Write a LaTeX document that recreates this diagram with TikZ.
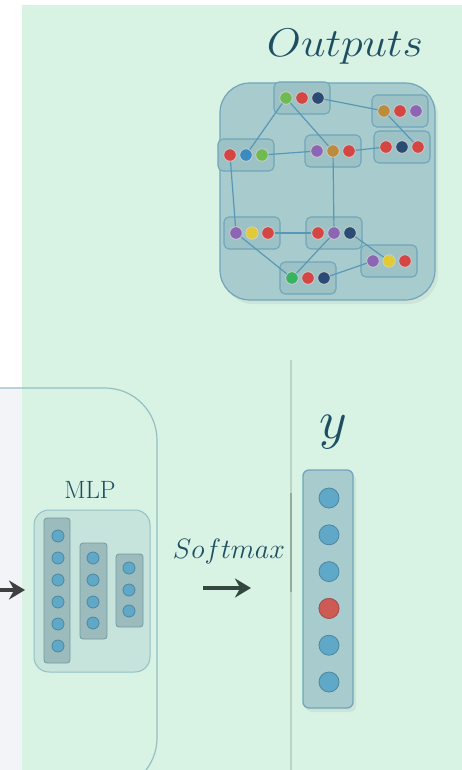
\RequirePackage{fix-cm}
\documentclass[tikz,border=0pt]{standalone}
\usepackage{tikz}
\usetikzlibrary{positioning, calc, arrows.meta, shadows}

\definecolor{mintbg}{RGB}{216, 242, 228}
\definecolor{greybg}{RGB}{242, 244, 247}
\definecolor{tealtxt}{RGB}{30, 78, 98}
\definecolor{boxfill}{RGB}{168, 204, 205}
\definecolor{boxline}{RGB}{112, 166, 186}
\definecolor{grpfill}{RGB}{156, 194, 198}
\definecolor{linkblue}{RGB}{88, 152, 182}
\definecolor{mlpfill}{RGB}{198, 228, 220}
\definecolor{mlpline}{RGB}{148, 192, 196}
\definecolor{unitblue}{RGB}{96, 168, 200}
\definecolor{unitred}{RGB}{206, 90, 84}
\definecolor{tokgreen}{RGB}{112, 186, 82}
\definecolor{tokgreenb}{RGB}{56, 180, 96}
\definecolor{tokred}{RGB}{212, 70, 68}
\definecolor{toknavy}{RGB}{42, 76, 116}
\definecolor{tokorange}{RGB}{188, 140, 62}
\definecolor{tokpurple}{RGB}{140, 102, 180}
\definecolor{tokblue}{RGB}{58, 140, 192}
\definecolor{tokyellow}{RGB}{226, 202, 52}
\definecolor{sepline}{RGB}{186, 212, 198}
\definecolor{arrowdark}{RGB}{50, 72, 62}

\tikzset{
  grpbox/.style={draw=boxline, fill=grpfill, rounded corners=5pt, line width=1.1pt,
    minimum width=56pt, minimum height=32pt, inner sep=0pt},
  tok/.style={circle, draw=black!18, line width=0.7pt, minimum size=12.5pt, inner sep=0pt},
  link/.style={draw=linkblue, line width=1.2pt},
  layerbox/.style={draw=mlpline!80!black, fill=boxfill!90!black!95, rounded corners=3pt,
    line width=0.8pt, inner sep=0pt},
  unit/.style={circle, fill=unitblue, draw=unitblue!80!black, line width=0.8pt,
    minimum size=12pt, inner sep=0pt},
  fatarrow/.style={-{Stealth[length=16pt, width=19pt]}, line width=3.4pt},
}

% one row of three tokens in a small box
\newcommand{\tokgroup}[6]{%
  \node[grpbox] (#1) at (#2,#3) {};
  \node[tok, fill=#4] (#1-1) at (#2-16,#3) {};
  \node[tok, fill=#5] (#1-2) at (#2,#3) {};
  \node[tok, fill=#6] (#1-3) at (#2+16,#3) {};
}

\begin{document}
\begin{tikzpicture}[x=1pt, y=-1pt]
  \useasboundingbox (0,0) rectangle (462,770);
  \fill[white] (0,0) rectangle (462,770);
  \fill[mintbg] (22,5) rectangle (462,770);
  \fill[greybg] (0,388) rectangle (22,770);

  % Outputs: graph of token groups
  \node[font=\fontsize{40}{44}\selectfont, text=tealtxt, anchor=base, xscale=1.1] (outtitle) at (345,57) {$Outputs$};
  \node[draw=boxline, fill=boxfill, rounded corners=30pt, line width=1.2pt,
        minimum width=215pt, minimum height=217pt,
        drop shadow={opacity=0.12, shadow xshift=3pt, shadow yshift=-4pt}] (outbox) at (327.5,191.5) {};

  \tokgroup{gA}{302}{98}{tokgreen}{tokred}{toknavy}
  \tokgroup{gB}{400}{111}{tokorange}{tokred}{tokpurple}
  \tokgroup{gC}{246}{155}{tokred}{tokblue}{tokgreen}
  \tokgroup{gD}{333}{151}{tokpurple}{tokorange}{tokred}
  \tokgroup{gE}{402}{147}{tokred}{toknavy}{tokred}
  \tokgroup{gF}{252}{233}{tokpurple}{tokyellow}{tokred}
  \tokgroup{gG}{334}{233}{tokred}{tokpurple}{toknavy}
  \tokgroup{gH}{389}{261}{tokpurple}{tokyellow}{tokred}
  \tokgroup{gI}{308}{278}{tokgreenb}{tokred}{toknavy}

  \draw[link] (gA-1) -- (gC-2);
  \draw[link] (gA-1) -- (gD-2);
  \draw[link] (gA-3) -- (gB-1);
  \draw[link] (gB-1) -- (gE-3);
  \draw[link] (gC-3) -- (gD-1);
  \draw[link] (gD-3) -- (gE-1);
  \draw[link] (gC-1) -- (gF-1);
  \draw[link] (gD-2) -- (gG-2);
  \draw[link] (gF-3) -- (gG-1);
  \draw[link] (gF-1) -- (gI-1);
  \draw[link] (gG-2) -- (gI-1);
  \draw[link] (gG-3) -- (gH-2);
  \draw[link] (gI-3) -- (gH-1);

  % separator
  \coordinate (sep-top) at (291,360);
  \coordinate (sep-bot) at (291,770);
  \draw[sepline, line width=1.2pt] (sep-top) -- (sep-bot);
  \coordinate (sep-a) at (291,493);
  \coordinate (sep-b) at (291,592);
  \draw[sepline!80!black, line width=1.5pt] (sep-a) -- (sep-b);

  % encoder block with the MLP
  \node[draw=mlpline, rounded corners=52pt, line width=1.2pt,
        minimum width=217pt, minimum height=402pt] (encoder) at (48.5,589) {};

  \node[font=\fontsize{25}{27}\selectfont, text=tealtxt, anchor=base] (mlplabel) at (90,498) {MLP};
  \node[draw=mlpline, fill=mlpfill, rounded corners=15pt, line width=1pt,
        minimum width=116pt, minimum height=162pt] (mlp) at (92,591) {};

  \node[layerbox, minimum width=26pt, minimum height=145pt] (col1) at (57,590.5) {};
  \node[layerbox, minimum width=27pt, minimum height=96pt] (col2) at (93.5,591) {};
  \node[layerbox, minimum width=27pt, minimum height=73pt] (col3) at (129.5,590.5) {};
  \foreach \yy [count=\i] in {536,558,580,602,624,646}
    \node[unit] (h1-\i) at (58,\yy) {};
  \foreach \yy [count=\i] in {558,580,602,623}
    \node[unit] (h2-\i) at (93,\yy) {};
  \foreach \yy [count=\i] in {568,590,611}
    \node[unit] (h3-\i) at (129,\yy) {};

  % input arrow
  \coordinate (in-start) at (-2,590);
  \coordinate (in-end) at (25,590);
  \draw[fatarrow, draw=black!75] (in-start) -- (in-end);

  % softmax step
  \node[font=\fontsize{28}{30}\selectfont, text=tealtxt, anchor=base] (smlabel) at (229,558) {$Softmax$};
  \coordinate (sm-start) at (203,588);
  \coordinate (sm-end) at (251,588);
  \draw[fatarrow, draw=arrowdark] (sm-start) -- (sm-end);

  % output vector y
  \node[font=\fontsize{54}{56}\selectfont, text=tealtxt, anchor=base] (ylabel) at (333,438) {$y$};
  \node[draw=boxline, fill=boxfill, rounded corners=6pt, line width=1.3pt,
        minimum width=50pt, minimum height=238pt,
        drop shadow={opacity=0.12, shadow xshift=3pt, shadow yshift=-4pt}] (ycol) at (328,589) {};
  \foreach \k in {1,...,6}
    \node[unit, minimum size=20pt] (y-\k) at (329,{498+36.8*(\k-1)}) {};
  \node[unit, minimum size=20pt, fill=unitred, draw=unitred!85!black] (y-4) at (329,{498+36.8*3}) {};
\end{tikzpicture}
\end{document}
